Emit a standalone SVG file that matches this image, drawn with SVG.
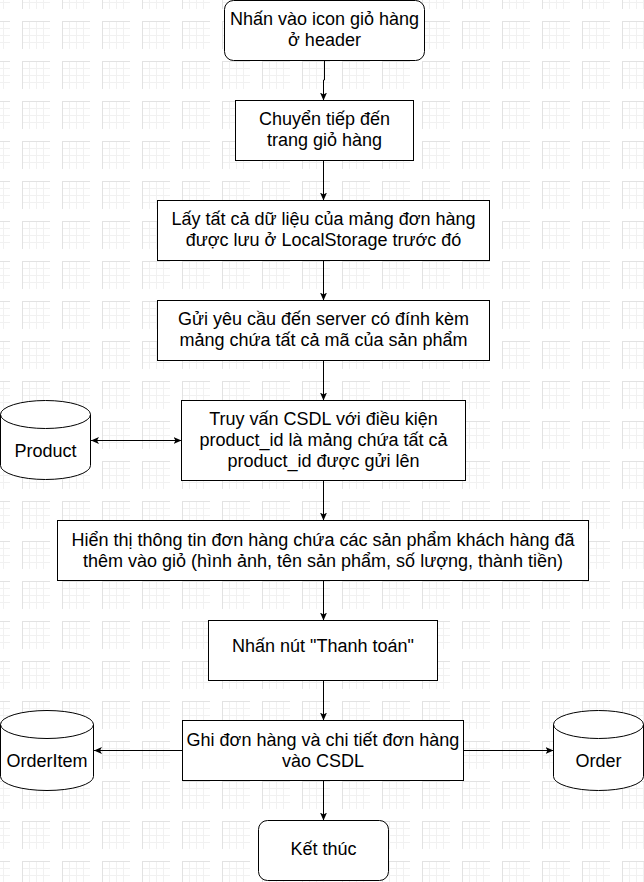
<svg xmlns="http://www.w3.org/2000/svg" width="644" height="882" viewBox="0 0 644 882">
<style>
.box{fill:#ffffff;stroke:#000000;stroke-width:1}
.edge{fill:none;stroke:#000000;stroke-width:1}
text{font-family:"Liberation Sans",Arial,Helvetica,sans-serif;font-size:18px;fill:#000000;text-anchor:middle}
</style>
<defs>
<pattern id="grid" patternUnits="userSpaceOnUse" x="22" y="21" width="40" height="40">
<g stroke="#f1f1f1" stroke-width="1" fill="none">
<path d="M7.5 0V28M14.5 0V28M21.5 0V28M0 7.5H28M0 14.5H28M0 21.5H28"/>
</g>
<path d="M0.5 0V28M0 0.5H28" stroke="#e2e2e2" stroke-width="1" fill="none"/>
</pattern>
<marker id="arr" viewBox="0 0 8 8" refX="8" refY="4" markerWidth="8" markerHeight="8" markerUnits="userSpaceOnUse" orient="auto-start-reverse">
<path d="M0,0.5 L8,4 L0,7.5 L2,4 Z" fill="#000000"/>
</marker>
</defs>
<rect x="0" y="0" width="644" height="882" fill="#ffffff"/>
<rect x="0" y="0" width="644" height="882" fill="url(#grid)"/>

<g id="connectors">
<path class="edge" d="M324.5 60.5V80H323.5V100.5" marker-end="url(#arr)"/>
<path class="edge" d="M323.5 160.5V200.5" marker-end="url(#arr)"/>
<path class="edge" d="M323.5 260.5V300.5" marker-end="url(#arr)"/>
<path class="edge" d="M323.5 360.5V400.5" marker-end="url(#arr)"/>
<path class="edge" d="M91 440.5H181.5" marker-start="url(#arr)" marker-end="url(#arr)"/>
<path class="edge" d="M323.5 480.5V520.5" marker-end="url(#arr)"/>
<path class="edge" d="M323.5 580.5V620.5" marker-end="url(#arr)"/>
<path class="edge" d="M323.5 680.5V720.5" marker-end="url(#arr)"/>
<path class="edge" d="M182.5 750.5H94" marker-end="url(#arr)"/>
<path class="edge" d="M463.5 750.5H553.5" marker-end="url(#arr)"/>
<path class="edge" d="M323.5 780.5V820.5" marker-end="url(#arr)"/>
</g>

<g id="n1">
<rect class="box" x="224.5" y="0.5" width="200" height="60" rx="9"/>
<text x="324.5" y="25">Nhấn vào icon giỏ hàng</text>
<text x="324.5" y="46">ở header</text>
</g>
<g id="n2">
<rect class="box" x="235.5" y="100.5" width="178" height="60"/>
<text x="324.5" y="125">Chuyển tiếp đến</text>
<text x="324.5" y="146">trang giỏ hàng</text>
</g>
<g id="n3">
<rect class="box" x="157.5" y="200.5" width="332" height="60"/>
<text x="323.5" y="225">Lấy tất cả dữ liệu của mảng đơn hàng</text>
<text x="323.5" y="246">được lưu ở LocalStorage trước đó</text>
</g>
<g id="n4">
<rect class="box" x="157.5" y="300.5" width="332" height="60"/>
<text x="323.5" y="325">Gửi yêu cầu đến server có đính kèm</text>
<text x="323.5" y="346">mảng chứa tất cả mã của sản phẩm</text>
</g>
<g id="n5">
<rect class="box" x="181.5" y="400.5" width="284" height="80"/>
<text x="323.5" y="424.5">Truy vấn CSDL với điều kiện</text>
<text x="323.5" y="445.5">product_id là mảng chứa tất cả</text>
<text x="323.5" y="466.5">product_id được gửi lên</text>
</g>
<g id="product">
<path class="box" d="M0.5 414.5A45 14 0 0 1 90.5 414.5V465.5A45 14 0 0 1 0.5 465.5Z"/>
<path class="edge" d="M0.5 414.5A45 14 0 0 0 90.5 414.5"/>
<text x="45.5" y="456.5">Product</text>
</g>
<g id="n6">
<rect class="box" x="57.5" y="520.5" width="531" height="60"/>
<text x="323" y="545.5">Hiển thị thông tin đơn hàng chứa các sản phẩm khách hàng đã</text>
<text x="323" y="566.5">thêm vào giỏ (hình ảnh, tên sản phẩm, số lượng, thành tiền)</text>
</g>
<g id="n7">
<rect class="box" x="208.5" y="620.5" width="229" height="60"/>
<text x="323" y="652">Nhấn nút "Thanh toán"</text>
</g>
<g id="n8">
<rect class="box" x="182.5" y="720.5" width="281" height="60"/>
<text x="323" y="745.5">Ghi đơn hàng và chi tiết đơn hàng</text>
<text x="323" y="766.5">vào CSDL</text>
</g>
<g id="orderitem">
<path class="box" d="M0.5 724.5A46.5 14 0 0 1 93.5 724.5V776.5A46.5 14 0 0 1 0.5 776.5Z"/>
<path class="edge" d="M0.5 724.5A46.5 14 0 0 0 93.5 724.5"/>
<text x="47" y="766.5">OrderItem</text>
</g>
<g id="order">
<path class="box" d="M553.5 724.5A45 14 0 0 1 643.5 724.5V776.5A45 14 0 0 1 553.5 776.5Z"/>
<path class="edge" d="M553.5 724.5A45 14 0 0 0 643.5 724.5"/>
<text x="598.5" y="766.5">Order</text>
</g>
<g id="end">
<rect class="box" x="258.5" y="820.5" width="130" height="60" rx="9"/>
<text x="323.5" y="855">Kết thúc</text>
</g>
</svg>
